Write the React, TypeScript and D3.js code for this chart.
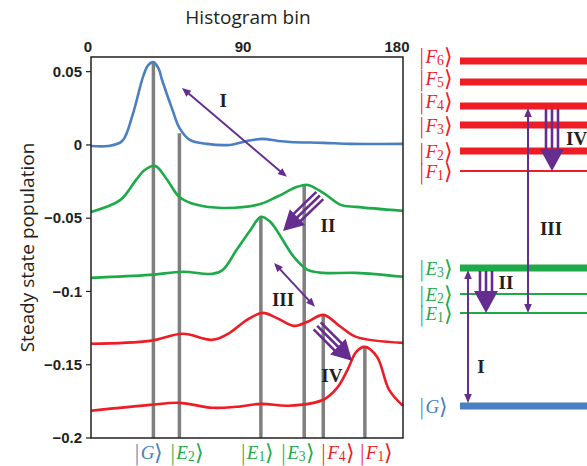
import React from "react";
import * as d3 from "d3";

// ---- data (bins 0..180, steady state population) ----
const blueBins = [0, 10, 18, 24, 30, 33, 36, 39, 41, 47, 51, 57, 67, 80, 90, 99, 108, 115, 134, 150, 180];
const blueVals = [-0.0007, -0.0007, 0.0027, 0.0205, 0.0464, 0.0545, 0.0565, 0.052, 0.0443, 0.0239, 0.0116, 0.0034, 0.0007, 0.0, 0.0027, 0.0041, 0.0027, 0.002, 0.0014, 0.0007, 0.0007];

const green1Bins = [0, 17, 26, 31, 37, 44, 51, 61, 76, 96, 107, 119, 125, 134, 144, 153, 180];
const green1Vals = [-0.0457, -0.0375, -0.0239, -0.0171, -0.0143, -0.0239, -0.0355, -0.0409, -0.043, -0.0409, -0.0355, -0.0286, -0.0273, -0.0327, -0.0409, -0.0423, -0.045];

const green2Bins = [0, 34, 53, 70, 76, 84, 92, 98, 103, 107, 117, 125, 134, 153, 180];
const green2Vals = [-0.0907, -0.0887, -0.0866, -0.088, -0.0853, -0.0716, -0.058, -0.0491, -0.052, -0.058, -0.0764, -0.0853, -0.0873, -0.0873, -0.09];

const red1Bins = [0, 34, 53, 70, 80, 90, 99, 107, 117, 125, 134, 144, 153, 180];
const red1Vals = [-0.1357, -0.1337, -0.1289, -0.133, -0.1282, -0.1194, -0.1146, -0.118, -0.1235, -0.1207, -0.116, -0.1241, -0.131, -0.1351];

const red2Bins = [0, 34, 51, 70, 84, 98, 114, 134, 142, 148, 153, 158, 165, 172, 180];
const red2Vals = [-0.1814, -0.1774, -0.176, -0.1794, -0.1787, -0.1767, -0.178, -0.1739, -0.1658, -0.1535, -0.1412, -0.1378, -0.1446, -0.1671, -0.178];

// vertical bin markers
const markerNames = ["G", "E2", "E1", "E3", "F4", "F1"];
const markerBins = [36, 51, 98, 123, 134, 158];
const markerTops = [0.057, 0.008, -0.049, -0.027, -0.116, -0.138];
const markerColors = ["#4a7fc1", "#1faa4a", "#1faa4a", "#1faa4a", "#ee1c25", "#ee1c25"];
const markerLabelShift = [-5, 7, -4, -7, 14, 11];

const xTicks = [0, 90, 180];
const yTicks = [0.05, 0, -0.05, -0.1, -0.15, -0.2];

// energy levels (arbitrary units above |G>)
const levelNames = ["G", "E1", "E2", "E3", "F1", "F2", "F3", "F4", "F5", "F6"];
const levelEnergy = [0, 93, 112, 138, 235, 255, 281, 300, 324, 345];
const levelThick = [true, false, false, true, false, true, true, true, true, true];

const PURPLE = "#662d91";
const BLUE = "#4a7fc1";
const GREEN = "#1faa4a";
const RED = "#ee1c25";

function levelColor(name: string) {
  if (name === "G") return BLUE;
  if (name[0] === "E") return GREEN;
  return RED;
}

function Ket({ x, y, name, color, size = 19, anchor = "start" }: any) {
  const letter = name[0];
  const sub = name.slice(1);
  const br = size * 1.15;
  return (
    <text x={x} y={y} fill={color} fontSize={size} fontFamily="Liberation Serif, serif" textAnchor={anchor} dominantBaseline="central">
      <tspan fontSize={br} fontFamily="DejaVu Sans, sans-serif" fontWeight={200}>|</tspan>
      <tspan fontStyle="italic">{letter}</tspan>
      {sub && (
        <tspan fontSize={size * 0.72} dy={4}>
          {sub}
        </tspan>
      )}
      <tspan dy={sub ? -4 : 0} fontSize={br} fontFamily="DejaVu Sans, sans-serif" fontWeight={200}>⟩</tspan>
    </text>
  );
}

function head(x1: number, y1: number, x2: number, y2: number, len: number, half: number) {
  const dx = x2 - x1, dy = y2 - y1;
  const d = Math.hypot(dx, dy);
  const ux = dx / d, uy = dy / d;
  const bx = x2 - ux * len, by = y2 - uy * len;
  return `M${x2},${y2}L${bx - uy * half},${by + ux * half}L${bx + uy * half},${by - ux * half}Z`;
}

function ThinArrow({ x1, y1, x2, y2 }: any) {
  const dx = x2 - x1, dy = y2 - y1;
  const d = Math.hypot(dx, dy);
  const ux = dx / d, uy = dy / d;
  const L = 9;
  return (
    <g>
      <line x1={x1 + ux * L * 0.8} y1={y1 + uy * L * 0.8} x2={x2 - ux * L * 0.8} y2={y2 - uy * L * 0.8} stroke={PURPLE} strokeWidth={2} />
      <path d={head(x2, y2, x1, y1, L, 3.8)} fill={PURPLE} />
      <path d={head(x1, y1, x2, y2, L, 3.8)} fill={PURPLE} />
    </g>
  );
}

function FatArrow({ x1, y1, x2, y2, len = 20, half = 12, gap = 6 }: any) {
  const dx = x2 - x1, dy = y2 - y1;
  const d = Math.hypot(dx, dy);
  const ux = dx / d, uy = dy / d;
  const px = -uy, py = ux;
  const bx = x2 - ux * (len - 2), by = y2 - uy * (len - 2);
  return (
    <g>
      {[-1, 0, 1].map((k) => (
        <line
          key={k}
          x1={x1 + px * gap * k}
          y1={y1 + py * gap * k}
          x2={bx + px * gap * k}
          y2={by + py * gap * k}
          stroke={PURPLE}
          strokeWidth={2.6}
        />
      ))}
      <path d={head(x1, y1, x2, y2, len, half)} fill={PURPLE} />
    </g>
  );
}

export default function App() {
  const x = d3.scaleLinear().domain([0, 180]).range([91, 403]);
  const y = d3.scaleLinear().domain([-0.2, 0.06]).range([438, 57]);
  const yE = d3.scaleLinear().domain([0, 345]).range([406, 61]);

  const line = d3
    .line<[number, number]>()
    .x((d) => x(d[0]))
    .y((d) => y(d[1]))
    .curve(d3.curveCatmullRom.alpha(0.5));

  const series = [
    { bins: blueBins, vals: blueVals, color: BLUE },
    { bins: green1Bins, vals: green1Vals, color: GREEN },
    { bins: green2Bins, vals: green2Vals, color: GREEN },
    { bins: red1Bins, vals: red1Vals, color: RED },
    { bins: red2Bins, vals: red2Vals, color: RED },
  ];

  const lvl = (n: string) => yE(levelEnergy[levelNames.indexOf(n)]);
  const tickFont = "Liberation Sans, Arial, sans-serif";
  const romanFont = "Liberation Serif, Times New Roman, serif";

  return (
    <svg width={587} height={466} style={{ position: "absolute", left: 0, top: 0, background: "#fff" }}>
      {/* title and axis label */}
      <text x={248} y={24} textAnchor="middle" fontSize={19} fontFamily="Open Sans, sans-serif" fill="#231f20">
        Histogram bin
      </text>
      <text
        transform={`translate(34,${y(-0.07)}) rotate(-90)`}
        textAnchor="middle"
        fontSize={19}
        fontFamily="Open Sans, sans-serif"
        fill="#231f20"
      >
        Steady state population
      </text>

      {/* top tick labels */}
      {xTicks.map((t) => (
        <text key={t} x={x(t) + (t === 0 ? -3 : t === 180 ? -6 : -4)} y={52} textAnchor="middle" fontSize={15} fontWeight="bold" fontFamily={tickFont} fill="#231f20">
          {t}
        </text>
      ))}

      {/* left ticks */}
      {yTicks.map((t) => (
        <g key={t}>
          <line x1={x(0) - 5} x2={x(0)} y1={y(t)} y2={y(t)} stroke="#231f20" strokeWidth={1.2} />
          <text x={x(0) - 9} y={y(t)} dy="0.35em" textAnchor="end" fontSize={15} fontWeight="bold" fontFamily={tickFont} fill="#231f20">
            {t === 0 ? "0" : d3.format("")(t).replace("-", "\u2212")}
          </text>
        </g>
      ))}

      {/* gray bin markers */}
      {markerBins.map((b, i) => (
        <line key={i} x1={x(b)} x2={x(b)} y1={y(-0.2)} y2={y(markerTops[i])} stroke="#7f7f7f" strokeWidth={3.5} />
      ))}

      {/* curves */}
      {series.map((s, i) => (
        <path
          key={i}
          d={line(s.bins.map((b, j) => [b, s.vals[j]] as [number, number])) || ""}
          fill="none"
          stroke={s.color}
          strokeWidth={2.6}
        />
      ))}

      {/* frame */}
      <rect x={x(0)} y={y(0.06)} width={x(180) - x(0)} height={y(-0.2) - y(0.06)} fill="none" stroke="#231f20" strokeWidth={1.5} />

      {/* bottom labels */}
      {markerBins.map((b, i) => (
        <Ket key={i} x={x(b) + markerLabelShift[i]} y={452} name={markerNames[i]} color={markerColors[i]} size={19} anchor="middle" />
      ))}

      {/* in-plot arrows */}
      <ThinArrow x1={x(52.5)} y1={y(0.0389)} x2={x(113)} y2={y(-0.0218)} />
      <FatArrow x1={x(132)} y1={y(-0.0345)} x2={x(110.8)} y2={y(-0.0587)} len={20} half={11} gap={5} />
      <ThinArrow x1={x(105.6)} y1={y(-0.0805)} x2={x(129.2)} y2={y(-0.1105)} />
      <FatArrow x1={x(130.5)} y1={y(-0.1235)} x2={x(150.6)} y2={y(-0.1473)} len={20} half={11} gap={5} />
      {[
        ["I", 76.2, 0.0307],
        ["II", 136.7, -0.0546],
        ["III", 110.8, -0.1057],
        ["IV", 139, -0.157],
      ].map(([t, b, v]: any) => (
        <text key={t} x={x(b)} y={y(v)} dy="0.35em" textAnchor="middle" fontSize={19} fontWeight="bold" fontFamily={romanFont} fill="#231f20">
          {t}
        </text>
      ))}

      {/* energy level diagram */}
      {levelNames.map((n, i) => (
        <line key={n} x1={460} x2={587} y1={yE(levelEnergy[i])} y2={yE(levelEnergy[i])} stroke={levelColor(n)} strokeWidth={levelThick[i] ? 7 : 2} />
      ))}
      {levelNames.map((n, i) => (
        <Ket key={n} x={418} y={yE(levelEnergy[i]) + (n === "F6" ? -5 : n === "F5" ? -4 : n === "F4" ? -5 : 0)} name={n} color={levelColor(n)} size={19} />
      ))}

      {/* transitions */}
      <ThinArrow x1={468} y1={lvl("G") - 3} x2={468} y2={lvl("E3") + 2} />
      <FatArrow x1={486} y1={lvl("E3") + 3} x2={486} y2={lvl("E1")} len={22} half={12} gap={6} />
      <ThinArrow x1={528} y1={lvl("E1")} x2={528} y2={lvl("F4") + 2} />
      <FatArrow x1={552} y1={lvl("F4") + 3} x2={552} y2={lvl("F1")} len={22} half={12} gap={6} />
      <text x={481} y={366} dy="0.35em" textAnchor="middle" fontSize={19} fontWeight="bold" fontFamily={romanFont} fill="#231f20">I</text>
      <text x={506} y={282} dy="0.35em" textAnchor="middle" fontSize={19} fontWeight="bold" fontFamily={romanFont} fill="#231f20">II</text>
      <text x={551} y={228} dy="0.35em" textAnchor="middle" fontSize={19} fontWeight="bold" fontFamily={romanFont} fill="#231f20">III</text>
      <text x={566} y={138} dy="0.35em" textAnchor="start" fontSize={19} fontWeight="bold" fontFamily={romanFont} fill="#231f20">IV</text>
    </svg>
  );
}
